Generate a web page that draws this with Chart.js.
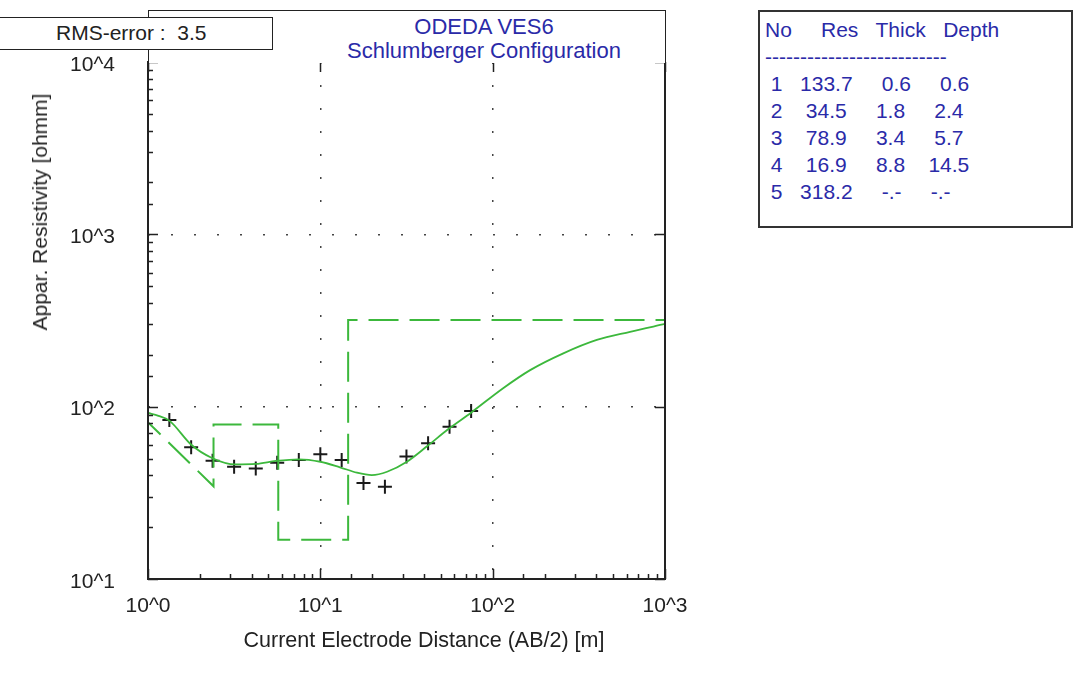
<!DOCTYPE html>
<html>
<head>
<meta charset="utf-8">
<title>ODEDA VES6</title>
<script src="https://cdn.jsdelivr.net/npm/chart.js@4.4.1/dist/chart.umd.min.js"></script>
<style>
  body { margin: 0; background: #fff; font-family: "Liberation Sans", Arial, sans-serif; }
  #wrap { position: relative; width: 1075px; height: 673px; overflow: hidden; }
  #grafico { position: absolute; left: 0; top: 0; }
  .caixa { position: absolute; box-sizing: border-box; background: #fff; }
  #cabecalho { left: 148px; top: 10px; width: 518px; height: 53px; border: 1.5px solid #222; border-bottom: none;
    text-align: center; color: #2a2aa8; font-size: 22px; line-height: 24px; padding-top: 4px; padding-left: 154px; }
  #rms { left: -2px; top: 17px; width: 275px; height: 33px; border: 1.5px solid #222; color: #222;
    font-size: 21px; line-height: 30px; white-space: pre; padding-left: 57px; }
  #camadas { left: 758px; top: 10px; width: 315px; height: 218px; border: 2px solid #333; }
  #tabela { position: absolute; left: 5px; top: 4px; margin: 0; font-family: "Liberation Sans", Arial, sans-serif;
    font-size: 21px; line-height: 27px; color: #2a2aa8; }
  .titulo { position: absolute; color: #222; font-size: 21px; white-space: nowrap; }
  #tituloY { left: 40px; top: 212px; transform: translate(-50%, -50%) rotate(-90deg); }
  #tituloX { left: 424px; top: 640px; transform: translate(-50%, -50%); font-size: 21.5px; }
</style>
</head>
<body>
<div id="wrap">
  <canvas id="grafico" width="1075" height="673"></canvas>
  <div class="caixa" id="cabecalho">ODEDA VES6<br>Schlumberger Configuration</div>
  <div class="caixa" id="rms"></div>
  <div class="caixa" id="camadas"><pre id="tabela"></pre></div>
  <div class="titulo" id="tituloY">Appar. Resistivity [ohmm]</div>
  <div class="titulo" id="tituloX">Current Electrode Distance (AB/2) [m]</div>
</div>
<script>
// medidas de campo (AB/2 em m, resistividade aparente em ohmm)
const abMeio = [1.33, 1.78, 2.37, 3.16, 4.22, 5.62, 7.5, 10, 13.3, 17.8, 23.7, 31.6, 42.2, 56.2, 75];
const rhoCampo = [83.7, 58.1, 48.6, 44.8, 43.7, 47.3, 49.0, 52.9, 49.0, 36.1, 34.3, 51.3, 61.3, 76.5, 94.4];

// curva calculada do modelo
const abCurva = [1, 1.15, 1.33, 1.79, 2.35, 3.2, 4.23, 5.53, 7.52, 10, 13, 16.3, 19.9, 24.4, 31.8, 41.8, 55.1, 74.9, 115, 165, 257, 402, 627, 1000];
const rhoCurva = [91.9, 88.5, 83.0, 59.9, 50.4, 46.2, 46.5, 48.4, 49.5, 47.9, 44.5, 41.4, 40.1, 41.9, 47.9, 59.1, 73.9, 92.3, 128, 163, 204, 244, 272, 302];

// camadas do modelo
const camadaNo = [1, 2, 3, 4, 5];
const camadaRes = [133.7, 34.5, 78.9, 16.9, 318.2];
const camadaEsp = [0.6, 1.8, 3.4, 8.8, null];
const camadaProf = [0.6, 2.4, 5.7, 14.5, null];

const rmsErro = 3.5;
const xMin = 1, xMax = 1000, yMin = 10, yMax = 10000;

/* --- TEXTOS --- */
document.getElementById('rms').textContent = `RMS-error :  ${rmsErro}`;
const fmt = v => (v === null ? '-.-' : v.toFixed(1)).padStart(8, ' ');
let linhas = ['No     Res   Thick   Depth', '--------------------------'];
camadaNo.forEach((n, i) => {
    linhas.push(String(n).padStart(2, ' ') + fmt(camadaRes[i]) + fmt(camadaEsp[i]) + fmt(camadaProf[i]));
});
document.getElementById('tabela').textContent = linhas.join('\n');

/* --- LINHA DO MODELO (degraus) --- */
const modelo = [{ x: camadaProf[0], y: camadaRes[0] }];
for (let i = 1; i < camadaRes.length; i++) {
    modelo.push({ x: camadaProf[i] ?? xMax, y: camadaRes[i] });
    if (i < camadaRes.length - 1) modelo.push({ x: camadaProf[i], y: camadaRes[i + 1] });
}

const ehDecada = v => Math.abs(Math.log10(v) - Math.round(Math.log10(v))) < 1e-6;
const rotulo = v => ehDecada(v) ? '10^' + Math.round(Math.log10(v)) : '';
const corGrade = c => (c.tick && ehDecada(c.tick.value)) ? '#444' : 'rgba(0,0,0,0)';

const verde = '#3cb83c';

// moldura e marcas internas
const moldura = {
    id: 'moldura',
    afterDatasetsDraw(chart) {
        const { ctx, chartArea: a, scales: { x, y } } = chart;
        ctx.save();
        ctx.strokeStyle = '#222';
        ctx.lineWidth = 1.5;
        ctx.beginPath();
        x.ticks.forEach(t => {
            const px = Math.round(x.getPixelForValue(t.value)) + 0.5;
            const grande = ehDecada(t.value);
            ctx.moveTo(px, a.bottom); ctx.lineTo(px, a.bottom - (grande ? 10 : 5));
            if (grande) { ctx.moveTo(px, a.top); ctx.lineTo(px, a.top + 10); }
        });
        y.ticks.forEach(t => {
            const py = Math.round(y.getPixelForValue(t.value)) + 0.5;
            const grande = ehDecada(t.value);
            ctx.moveTo(a.left, py); ctx.lineTo(a.left + (grande ? 10 : 5), py);
            if (grande) { ctx.moveTo(a.right, py); ctx.lineTo(a.right - 10, py); }
        });
        ctx.stroke();
        ctx.lineWidth = 2;
        ctx.strokeRect(a.left, a.top, a.right - a.left, a.bottom - a.top);
        ctx.restore();
    }
};

Chart.defaults.font.family = '"Liberation Sans", Arial, sans-serif';

new Chart(document.getElementById('grafico'), {
    type: 'scatter',
    data: {
        datasets: [
            {
                label: 'calculada',
                data: abCurva.map((x, i) => ({ x, y: rhoCurva[i] })),
                showLine: true,
                borderColor: verde,
                borderWidth: 1.8,
                pointRadius: 0,
                cubicInterpolationMode: 'monotone'
            },
            {
                label: 'modelo',
                data: modelo,
                showLine: true,
                borderColor: verde,
                borderWidth: 2,
                borderDash: [30, 11],
                pointRadius: 0,
                tension: 0
            },
            {
                label: 'campo',
                data: abMeio.map((x, i) => ({ x, y: rhoCampo[i] })),
                pointStyle: 'cross',
                pointRadius: 7,
                borderWidth: 2,
                borderColor: '#1a1a1a',
                backgroundColor: '#1a1a1a'
            }
        ]
    },
    options: {
        responsive: false,
        animation: false,
        layout: { padding: { left: 0, top: 62, right: 410, bottom: 0 } },
        plugins: { legend: { display: false }, tooltip: { enabled: false } },
        scales: {
            x: {
                type: 'logarithmic',
                min: xMin, max: xMax,
                afterFit: s => { s.height = 94; },
                grid: { color: corGrade, lineWidth: 1.5, drawTicks: false },
                border: { display: false, dash: [2, 21] },
                ticks: { callback: rotulo, autoSkip: false, maxRotation: 0, padding: 15, color: '#222', font: { size: 21 } }
            },
            y: {
                type: 'logarithmic',
                min: yMin, max: yMax,
                afterFit: s => { s.width = 148; },
                grid: { color: corGrade, lineWidth: 1.5, drawTicks: false },
                border: { display: false, dash: [2, 21] },
                ticks: { callback: rotulo, autoSkip: false, padding: 33, labelOffset: 3, color: '#222', font: { size: 21 } }
            }
        }
    },
    plugins: [moldura]
});
</script>
</body>
</html>
